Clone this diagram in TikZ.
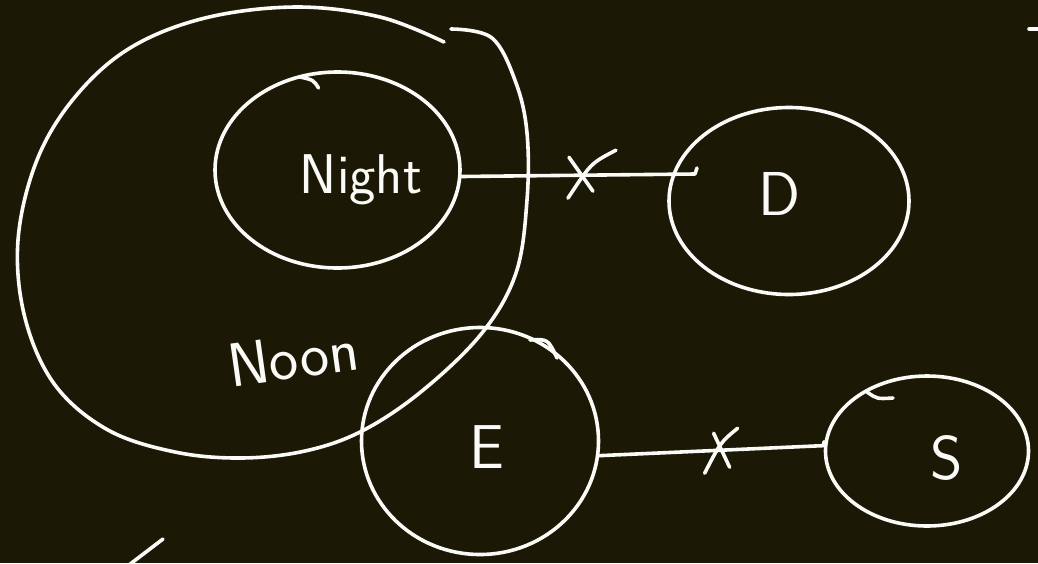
\documentclass[tikz,border=0pt]{standalone}
\usepackage{fontspec}
\usetikzlibrary{shapes.geometric,calc}
\definecolor{board}{RGB}{27,25,5}
\definecolor{chalk}{RGB}{250,250,246}
\tikzset{
  pen/.style={draw=chalk, line width=3.6pt, line cap=round, line join=round},
  bubble/.style={ellipse, pen, inner sep=0pt},
  hand/.style={text=chalk, font=\sffamily\fontsize{62}{62}\selectfont, inner sep=0pt},
}
\begin{document}
\begin{tikzpicture}[x=1pt,y=-1pt]
\fill[board] (0,0) rectangle (1038,563);
\useasboundingbox (0,0) rectangle (1038,563);

% outer hand-drawn set "Noon"
\draw[pen] plot[smooth, tension=0.6] coordinates {(444,42) (380,17) (296,7) (205,18) (130,48) (75,97) (37,160) (18,240) (25,318) (55,385) (108,430) (175,452) (241,458) (305,451) (362,431) (422,391) (482,333) (516,273) (527,200) (527,133) (516,83) (492,38) (451,29)};

% sets
\node[bubble, minimum width=245, minimum height=196] (Night) at (337.5,170) {};
\node[bubble, minimum width=240, minimum height=187] (D) at (789,201) {};
\node[bubble, minimum width=237, minimum height=227] (E) at (480,441) {};
\node[bubble, minimum width=203, minimum height=150] (S) at (927,451) {};

% pen hooks
\draw[pen] ($(Night.center)+(-37.5,-93)$) .. controls ($(Night.center)+(-24,-90)$) .. ($(Night.center)+(-19,-82)$);
\draw[pen] ($(E.center)+(50,-101)$) .. controls ($(E.center)+(68,-102)$) .. ($(E.center)+(77,-83)$);
\draw[pen] ($(S.center)+(-60,-59)$) .. controls ($(S.center)+(-50,-52)$) .. ($(S.center)+(-34,-53)$);

% labels
\node[hand, font=\sffamily\fontsize{56}{56}\selectfont] (tNight) at (361,180) {Night};
\node[hand] (tD) at (780,194) {D};
\node[hand] (tE) at (487,447) {E};
\node[hand] (tS) at (947,458) {S};
\node[hand, rotate=8] (tNoon) at (293,357) {Noon};

% connector Night -- D
\coordinate (dtip) at ($(D.center)+(-94,-27)$);
\draw[pen] (Night.-3) -- (dtip) -- ++(2,-6);
\coordinate (x1) at ($(Night.-3)!0.52!(dtip)$);
\draw[pen] ($(x1)+(-14,-18)$) -- ($(x1)+(10,16)$);
\draw[pen] ($(x1)+(33,-25)$) .. controls ($(x1)+(8,-12)$) .. ($(x1)+(-15,23)$);

% connector E -- S
\draw[pen] (E.-7) -- (S.177) -- ++(0,-4);
\coordinate (x2) at ($(E.-7)!0.54!(S.177)$);
\draw[pen] ($(x2)+(-7,-17)$) -- ($(x2)+(9,17)$);
\draw[pen] ($(x2)+(17,-22)$) .. controls ($(x2)+(0,-8)$) .. ($(x2)+(-16,23)$);

% stray marks
\coordinate (m1) at (1029,29);
\draw[pen] (m1) -- ++(14,0);
\coordinate (m2) at (163,539);
\draw[pen] (m2) -- ++(-38,29);
\end{tikzpicture}
\end{document}
